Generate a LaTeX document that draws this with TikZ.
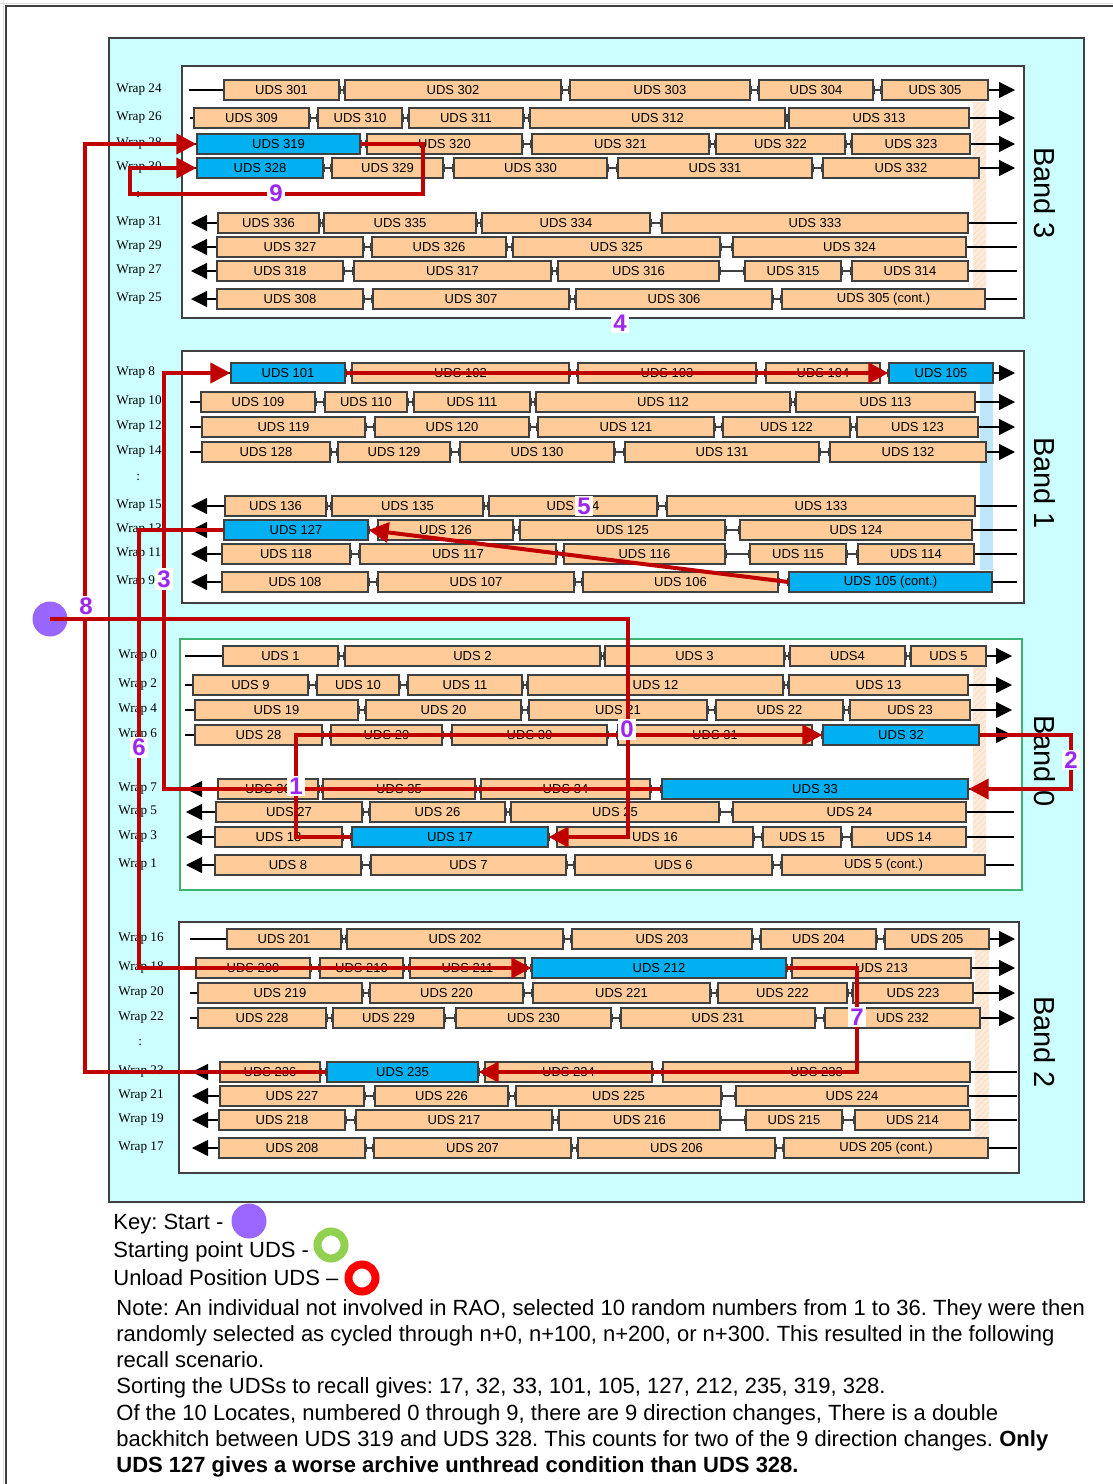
\documentclass[tikz,border=0pt]{standalone}
\usepackage{fontspec}
\setmainfont{Liberation Sans}
\newfontfamily\wrapfont{Liberation Serif}
\usetikzlibrary{arrows.meta,patterns}
\frenchspacing
\definecolor{cyanbg}{HTML}{CCFFFF}
\definecolor{peach}{HTML}{FFCC99}
\definecolor{selblue}{HTML}{00B0F0}
\definecolor{routered}{HTML}{C00000}
\definecolor{lblpurple}{HTML}{9C27F0}
\definecolor{startpurple}{HTML}{9966FF}
\definecolor{ringgreen}{HTML}{92D050}
\definecolor{ringred}{HTML}{FF0000}
\definecolor{boxline}{HTML}{404040}
\definecolor{bandgreen}{HTML}{3CB371}
\definecolor{striphatch}{HTML}{FCEBDF}
\definecolor{stripblue}{HTML}{BDE6F8}
\tikzset{
  uds/.style={draw=boxline, line width=0.6pt, minimum height=10pt, inner sep=0pt,
    font=\fontsize{6.5}{7}\selectfont},
  gapline/.style={draw=boxline, line width=0.6pt, {Bar[width=4pt]}-{Bar[width=4pt]}},
  rowline/.style={draw=black, line width=0.6pt},
  bandbox/.style={draw=boxline, fill=white, line width=0.7pt},
  wraplbl/.style={anchor=west, inner sep=0pt, font=\wrapfont\fontsize{6.6}{7}\selectfont},
  bandlbl/.style={rotate=-90, inner sep=0pt, font=\fontsize{14.5}{15}\selectfont},
  route/.style={draw=routered, line width=2pt},
  rarrow/.style={route, -{Triangle[length=10pt,width=10pt]}},
  numlbl/.style={fill=white, text=lblpurple, inner sep=1pt, font=\bfseries\fontsize{12}{12}\selectfont},
  dot/.style={circle, fill=startpurple, minimum size=17.5pt, inner sep=0pt},
  ring/.style={circle, line width=4pt, minimum size=13.5pt, inner sep=0pt},
  keytxt/.style={anchor=base west, inner sep=0pt, font=\fontsize{11}{13}\selectfont},
}
\newcommand\udsrow[6]{%
  \foreach [count=\i] \a/\b/\t/\c in {#6} {
    \node[uds, fill=\c, minimum width={(\b-\a)*0.5pt}] (#1-\i) at ({(\a+\b)/2},#2) {\t};
    \ifnum\i>1
      \pgfmathtruncatemacro\j{\i-1}
      \draw[gapline] (#1-\j.east) -- (#1-\i.west);
    \fi
    \xdef\lastidx{\i}
  }
  \if#3f
    \draw[rowline] (#4,#2) -- (#1-1.west);
    \draw[rowline,-{Triangle[length=8pt,width=8pt]}] (#1-\lastidx.east) -- (#5,#2);
  \else
    \draw[rowline,{Triangle[length=8pt,width=8pt]}-] (#4,#2) -- (#1-1.west);
    \draw[rowline] (#1-\lastidx.east) -- (#5,#2);
  \fi
}
\begin{document}
\begin{tikzpicture}[x=0.5pt,y=-0.5pt]
\useasboundingbox (0,0) rectangle (1113,1484);
\fill[white] (0,0) rectangle (1113,1484);
% sheet frame
\draw[gray!25, line width=0.3pt] (0,3) -- (1113,3) (3,0) -- (3,1484);
\draw[boxline, line width=1pt] (1113,5.5) -- (6,5.5) -- (6,1484);
% outer area
\draw[fill=cyanbg, draw=boxline, line width=0.7pt] (109,38) rectangle (1084,1202);

% wrap labels
\foreach \w/\y in {24/90,26/118,28/144,30/168,31/223,29/247,27/271,25/299,
  8/373,10/402,12/427,14/452,15/506,13/530,11/554,9/582}
  \node[wraplbl] (wl\w) at (116,\y) {Wrap \w};
\foreach \w/\y in {0/656,2/685,4/710,6/735,7/789,5/812,3/837,1/865,
  16/939,18/968,20/993,22/1018,23/1072,21/1096,19/1120,17/1148}
  \node[wraplbl] (wl\w) at (118,\y) {Wrap \w};
\node[wraplbl] (dots3) at (136,194) {:};
\node[wraplbl] (dots1) at (136,477) {:};
\node[wraplbl] (dots2) at (138,1042) {:};

% band boxes
\draw[bandbox] (182,66) rectangle (1024,318);
\draw[bandbox] (182,351) rectangle (1024,603);
\draw[bandbox, draw=bandgreen] (180,639) rectangle (1022,890);
\draw[bandbox] (179,922) rectangle (1019,1173);

% strips
\foreach \xa/\ya/\xb/\yb in {973/102/986/288, 973/667/986/853, 975/950/989/1137}{
  \fill[striphatch] (\xa,\ya) rectangle (\xb,\yb);
  \fill[pattern=north east lines, pattern color=peach!70] (\xa,\ya) rectangle (\xb,\yb);
}
\fill[stripblue] (980,383) rectangle (993,570);

% ---------- Band 3 ----------
\udsrow{w24}{90}{f}{189}{1015}{224/339/UDS 301/peach, 345/561/UDS 302/peach, 570/750/UDS 303/peach, 759/873/UDS 304/peach, 882/988/UDS 305/peach}
\udsrow{w26}{118}{f}{190}{1015}{194/309/UDS 309/peach, 318/402/UDS 310/peach, 409/523/UDS 311/peach, 530/785/UDS 312/peach, 789/969/UDS 313/peach}
\udsrow{w28}{144}{f}{190}{1015}{197/360/UDS 319/selblue, 367/522/UDS 320/peach, 532/709/UDS 321/peach, 716/845/UDS 322/peach, 852/970/UDS 323/peach}
\udsrow{w30}{168}{f}{190}{1015}{197/323/UDS 328/selblue, 332/443/UDS 329/peach, 454/607/UDS 330/peach, 618/812/UDS 331/peach, 823/979/UDS 332/peach}
\udsrow{w31}{223}{r}{191}{1017}{218/319/UDS 336/peach, 324/476/UDS 335/peach, 482/650/UDS 334/peach, 662/968/UDS 333/peach}
\udsrow{w29}{247}{r}{191}{1017}{217/363/UDS 327/peach, 372/506/UDS 326/peach, 513/720/UDS 325/peach, 733/966/UDS 324/peach}
\udsrow{w27}{271}{r}{191}{1017}{217/343/UDS 318/peach, 354/551/UDS 317/peach, 558/719/UDS 316/peach, 745/841/UDS 315/peach, 852/968/UDS 314/peach}
\udsrow{w25}{299}{r}{191}{1017}{217/363/UDS 308/peach, 373/569/UDS 307/peach, 576/772/UDS 306/peach, 782/985/UDS 305 (cont.)/peach}

% ---------- Band 1 ----------
\udsrow{w8}{373}{f}{190}{1015}{231/345/UDS 101/selblue, 352/569/UDS 102/peach, 578/756/UDS 103/peach, 766/880/UDS 104/peach, 889/993/UDS 105/selblue}
\udsrow{w10}{402}{f}{190}{1015}{201/315/UDS 109/peach, 325/407/UDS 110/peach, 414/530/UDS 111/peach, 536/790/UDS 112/peach, 796/975/UDS 113/peach}
\udsrow{w12}{427}{f}{190}{1015}{202/365/UDS 119/peach, 375/529/UDS 120/peach, 538/714/UDS 121/peach, 723/850/UDS 122/peach, 857/978/UDS 123/peach}
\udsrow{w14}{452}{f}{190}{1015}{202/330/UDS 128/peach, 338/450/UDS 129/peach, 460/614/UDS 130/peach, 625/819/UDS 131/peach, 830/986/UDS 132/peach}
\udsrow{w15}{506}{r}{191}{1017}{225/326/UDS 136/peach, 332/483/UDS 135/peach, 489/657/UDS 134/peach, 667/975/UDS 133/peach}
\udsrow{w13}{530}{r}{191}{1017}{224/368/UDS 127/selblue, 378/513/UDS 126/peach, 520/725/UDS 125/peach, 740/972/UDS 124/peach}
\udsrow{w11}{554}{r}{191}{1017}{222/350/UDS 118/peach, 360/556/UDS 117/peach, 564/725/UDS 116/peach, 750/846/UDS 115/peach, 858/974/UDS 114/peach}
\udsrow{w9}{582}{r}{191}{1017}{222/368/UDS 108/peach, 378/574/UDS 107/peach, 583/778/UDS 106/peach, 789/992/UDS 105 (cont.)/selblue}

% ---------- Band 0 ----------
\udsrow{w0}{656}{f}{185}{1012}{223/338/UDS 1/peach, 345/600/UDS 2/peach, 605/784/UDS 3/peach, 790/905/UDS4/peach, 911/986/UDS 5/peach}
\udsrow{w2}{685}{f}{185}{1012}{193/308/UDS 9/peach, 317/399/UDS 10/peach, 408/522/UDS 11/peach, 528/783/UDS 12/peach, 789/968/UDS 13/peach}
\udsrow{w4}{710}{f}{185}{1012}{195/358/UDS 19/peach, 366/521/UDS 20/peach, 529/707/UDS 21/peach, 716/843/UDS 22/peach, 850/970/UDS 23/peach}
\udsrow{w6}{735}{f}{185}{1012}{195/322/UDS 28/peach, 331/442/UDS 29/peach, 452/607/UDS 30/peach, 618/812/UDS 31/peach, 823/979/UDS 32/selblue}
\udsrow{w7}{789}{r}{186}{1014}{218/318/UDS 36/peach, 323/475/UDS 35/peach, 481/650/UDS 34/peach, 662/968/UDS 33/selblue}
\udsrow{w5}{812}{r}{186}{1014}{216/362/UDS 27/peach, 370/505/UDS 26/peach, 511/719/UDS 25/peach, 733/966/UDS 24/peach}
\udsrow{w3}{837}{r}{186}{1014}{215/342/UDS 18/peach, 352/548/UDS 17/selblue, 557/753/UDS 16/peach, 763/841/UDS 15/peach, 852/966/UDS 14/peach}
\udsrow{w1}{865}{r}{186}{1014}{215/361/UDS 8/peach, 371/566/UDS 7/peach, 575/772/UDS 6/peach, 782/985/UDS 5 (cont.)/peach}

% ---------- Band 2 ----------
\udsrow{w16}{939}{f}{190}{1015}{227/341/UDS 201/peach, 347/563/UDS 202/peach, 572/752/UDS 203/peach, 761/876/UDS 204/peach, 885/989/UDS 205/peach}
\udsrow{w18}{968}{f}{190}{1015}{196/310/UDS 209/peach, 320/403/UDS 210/peach, 410/525/UDS 211/peach, 532/786/UDS 212/selblue, 792/971/UDS 213/peach}
\udsrow{w20}{993}{f}{190}{1015}{198/362/UDS 219/peach, 370/523/UDS 220/peach, 533/710/UDS 221/peach, 718/847/UDS 222/peach, 853/973/UDS 223/peach}
\udsrow{w22}{1018}{f}{190}{1015}{198/326/UDS 228/peach, 333/444/UDS 229/peach, 456/611/UDS 230/peach, 621/815/UDS 231/peach, 825/980/UDS 232/peach}
\udsrow{w23}{1072}{r}{192}{1017}{220/320/UDS 236/peach, 327/478/UDS 235/selblue, 485/652/UDS 234/peach, 663/970/UDS 233/peach}
\udsrow{w21}{1096}{r}{192}{1017}{220/364/UDS 227/peach, 375/508/UDS 226/peach, 516/721/UDS 225/peach, 736/968/UDS 224/peach}
\udsrow{w19}{1120}{r}{192}{1017}{219/345/UDS 218/peach, 356/552/UDS 217/peach, 559/720/UDS 216/peach, 746/842/UDS 215/peach, 855/970/UDS 214/peach}
\udsrow{w17}{1148}{r}{192}{1017}{219/365/UDS 208/peach, 374/571/UDS 207/peach, 578/775/UDS 206/peach, 784/988/UDS 205 (cont.)/peach}

% band labels
\node[bandlbl] (band3) at (1045,193) {Band 3};
\node[bandlbl] (band1) at (1045,483) {Band 1};
\node[bandlbl] (band0) at (1045,761) {Band 0};
\node[bandlbl] (band2) at (1045,1042) {Band 2};

% ---------- route ----------
\node[dot] (start) at (50,619) {};
\coordinate (k0) at (628,619);
\coordinate (k1) at (296,735);
\coordinate (k2) at (1071,761);
\coordinate (k3) at (164,579);
\coordinate (k6) at (139,747);
\coordinate (k7) at (857,1017);
\coordinate (k8) at (85,606);
\coordinate (k9a) at (423,194);
\coordinate (k9b) at (130,194);

\draw[rarrow] (start.center) -- (k0) |- (w3-2.east);
\draw[rarrow] (w3-2.west) -| (k1) -- (w6-5.west);
\draw[rarrow] (w6-5.east) -| (k2) |- (w7-4.east);
\draw[rarrow] (w7-4.west) -| (k3) |- (w8-1.west);
\draw[rarrow] (w8-1.east) -- (w8-5.west);
\draw[rarrow] (w9-4.west) -- (w13-1.east);
\draw[rarrow] (w13-1.west) -| (k6) |- (w18-4.west);
\draw[rarrow] (w18-4.east) -| (k7) |- (w23-2.east);
\draw[rarrow] (w23-2.west) -| (k8) |- (w28-1.west);
\draw[rarrow] (w28-1.east) -| (k9a) -- (k9b) |- (w30-1.west);

% step numbers
\node[numlbl] (n0) at (627,729) {0};
\node[numlbl] (n1) at (296,786) {1};
\node[numlbl] (n2) at (1071,760) {2};
\node[numlbl] (n3) at (164,579) {3};
\node[numlbl] (n4) at (620,323) {4};
\node[numlbl] (n5) at (584,506) {5};
\node[numlbl] (n6) at (139,747) {6};
\node[numlbl] (n7) at (857,1017) {7};
\node[numlbl] (n8) at (86,606) {8};
\node[numlbl] (n9) at (276,193) {9};

% ---------- key ----------
\node[keytxt] (key1) at (113,1229) {Key: Start -};
\node[dot] (keystart) at (249,1221) {};
\node[keytxt] (key2) at (113,1257) {Starting point UDS -};
\node[ring, draw=ringgreen] (keygreen) at (331,1245) {};
\node[keytxt] (key3) at (113,1285) {Unload Position UDS –};
\node[ring, draw=ringred] (keyred) at (362,1278) {};

% ---------- note ----------
\node[keytxt] (note1) at (116,1315) {Note: An individual not involved in RAO, selected 10 random numbers from 1 to 36. They were then};
\node[keytxt] (note2) at (116,1341.3) {randomly selected as cycled through n+0, n+100, n+200, or n+300. This resulted in the following};
\node[keytxt] (note3) at (116,1367.6) {recall scenario.};
\node[keytxt] (note4) at (116,1393.9) {Sorting the UDSs to recall gives: 17, 32, 33, 101, 105, 127, 212, 235, 319, 328.};
\node[keytxt] (note5) at (116,1420.2) {Of the 10 Locates, numbered 0 through 9, there are 9 direction changes, There is a double};
\node[keytxt] (note6) at (116,1446.5) {backhitch between UDS 319 and UDS 328. This counts for two of the 9 direction changes. \textbf{Only}};
\node[keytxt] (note7) at (116,1472.8) {\textbf{UDS 127 gives a worse archive unthread condition than UDS 328.}};
\end{tikzpicture}
\end{document}
